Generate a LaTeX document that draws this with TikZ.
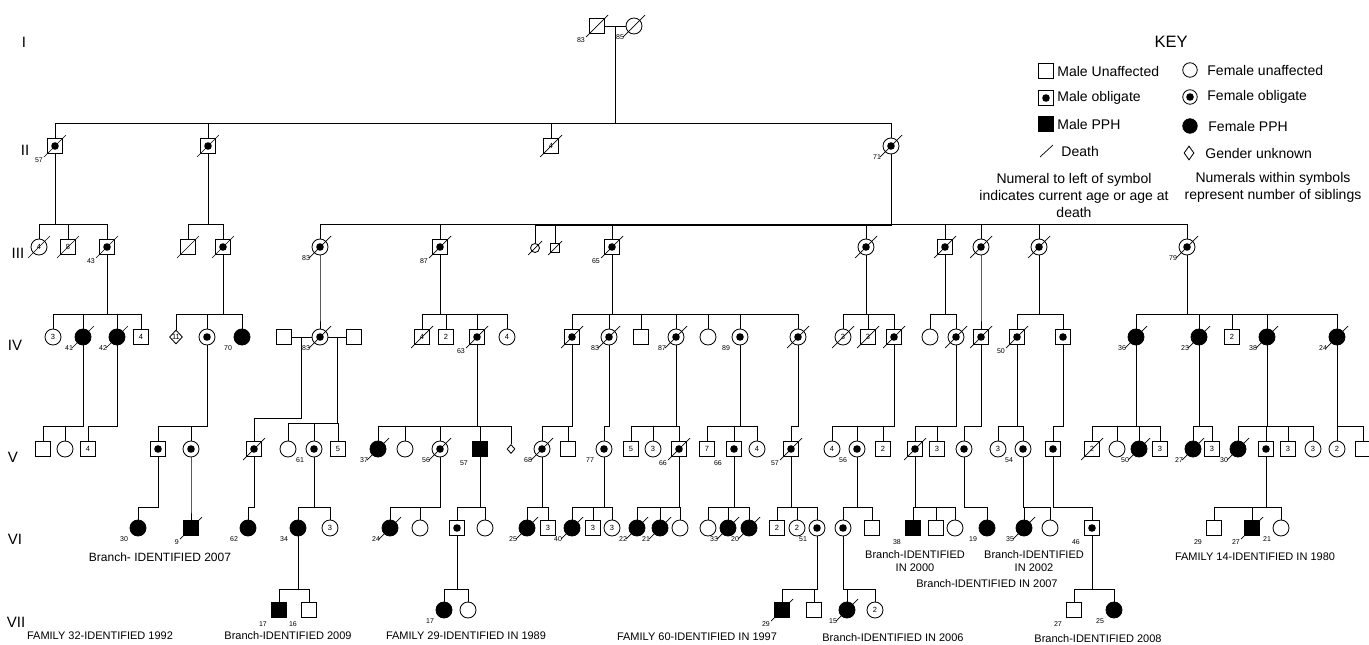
\documentclass[tikz,border=0pt]{standalone}
\usepackage{fontspec}
\setmainfont{Liberation Sans}
\usetikzlibrary{calc,shapes.geometric,positioning}

\newcommand{\agefont}{\fontsize{7}{8}\selectfont}
\newcommand{\numfont}{\fontsize{7.5}{8}\selectfont}
\newcommand{\notefont}{\fontsize{11}{13}\selectfont}
\newcommand{\keyfont}{\fontsize{14}{17}\selectfont}
\newcommand{\genfont}{\fontsize{15}{17}\selectfont}
% parent (anchor or coordinate) down to each child
\newcommand{\offspring}[3][23]{%
  \foreach \kid in {#3}
    \draw (#2) |- ([yshift=#1pt]\kid.center) -- (\kid.north);}

\begin{document}
\begin{tikzpicture}[x=1pt,y=-1pt,line width=0.85pt,
  sym/.style={draw,fill=white,inner sep=0pt,font=\numfont},
  ma/.style={sym,rectangle,minimum size=15.5pt},
  fe/.style={sym,circle,minimum size=16pt},
  ob/.style={path picture={\fill[black] (path picture bounding box.center) circle (3.8pt);}},
  mob/.style={ma,ob},
  fob/.style={fe,ob},
  mpph/.style={ma,fill=black},
  fpph/.style={fe,fill=black},
  unk/.style={sym,diamond,minimum width=11pt,minimum height=14pt},
  lil/.style={minimum size=9pt},
  aged/.style={label={[font=\agefont,inner sep=0.6pt,shift={(-3pt,-2pt)}]-135:#1}},
  slash/.style={line width=0.7pt},
  gen/.style={font=\genfont},
  note/.style={font=\notefont,align=center},
  keytxt/.style={font=\keyfont,anchor=west,inner sep=0pt}
]
\useasboundingbox (0,0) rectangle (1369,645);

% generation labels
\node[gen] (gI)   at (24,42)  {I};
\node[gen] (gII)  at (25,150) {II};
\node[gen] (gIII) at (18,253) {III};
\node[gen] (gIV)  at (15,345) {IV};
\node[gen] (gV)   at (13,457) {V};
\node[gen] (gVI)  at (15,539) {VI};
\node[gen] (gVII) at (16,622) {VII};

% generation I
\node[ma,aged=83] (I1) at (597,26) {};
\node[fe,aged=85] (I2) at (634,26) {};
\draw (I1.east) -- (I2.west);
\coordinate (I12) at ($(I1.east)!.5!(I2.west)$);

% generation II
\node[mob,aged=57] (II1) at (55,146) {};
\node[mob] (II2) at (208,146) {};
\node[ma] (II3) at (551,146) {4};
\node[fob,aged=71] (II4) at (891,146) {};

% generation III
\node[fe] (III1) at (39,247) {4};
\node[ma] (III2) at (68,247) {8};
\node[mob,aged=43] (III3) at (107,247) {};
\node[ma] (III4) at (188,247) {};
\node[mob] (III5) at (223,247) {};
\node[fob,aged=83] (III6) at (320,247) {};
\node[mob,aged=87] (III7) at (440,247) {};
\node[fe,lil] (III8) at (535,248) {};
\node[ma,lil] (III9) at (555,248) {};
\node[mob,aged=65] (III10) at (612,247) {};
\node[fob] (III11) at (866,247) {};
\node[mob] (III12) at (945,247) {};
\node[fob] (III13) at (981,247) {};
\node[fob] (III14) at (1039,247) {};
\node[fob,aged=79] (III15) at (1187,247) {};

% generation IV
\node[fe] (IV1) at (53,337) {3};
\node[fpph,aged=41] (IV2) at (83,337) {};
\node[fpph,aged=42] (IV3) at (117,337) {};
\node[ma] (IV4) at (141,337) {4};
\node[unk] (IV5) at (176,337) {11};
\node[fob] (IV6) at (207,337) {};
\node[fpph,aged=70] (IV7) at (242,337) {};
\node[ma] (IV8) at (284,337) {};
\node[fob,aged=83] (IV9) at (320,337) {};
\node[ma] (IV10) at (354,337) {};
\node[ma] (IV11) at (422,337) {4};
\node[ma] (IV12) at (446,337) {2};
\node[mob,aged=63] (IV13) at (477,337) {};
\node[fe] (IV14) at (507,337) {4};
\node[mob] (IV15) at (572,337) {};
\node[fob,aged=83] (IV16) at (609,337) {};
\node[ma] (IV17) at (641,337) {};
\node[fob,aged=87] (IV18) at (676,337) {};
\node[fe] (IV19) at (708,337) {};
\node[fob,aged=89] (IV20) at (740,337) {};
\node[fob] (IV21) at (798,337) {};
\node[fe] (IV22) at (843,337) {3};
\node[ma] (IV23) at (868,337) {3};
\node[mob] (IV24) at (894,337) {};
\node[fe] (IV25) at (930,337) {};
\node[fob] (IV26) at (956,337) {};
\node[mob] (IV27) at (981,337) {};
\node[mob,aged=50] (IV28) at (1017,337) {};
\node[mob] (IV29) at (1063,337) {};
\node[fpph,aged=36] (IV30) at (1136,337) {};
\node[fpph,aged=23] (IV31) at (1199,337) {};
\node[ma] (IV32) at (1232,337) {2};
\node[fpph,aged=38] (IV33) at (1267,337) {};
\node[fpph,aged=24] (IV34) at (1337,337) {};
\draw (IV8.east) -- (IV9.west) (IV9.east) -- (IV10.west);
\coordinate (IVc1) at ($(IV8.east)!.5!(IV9.west)$);
\coordinate (IVc2) at ($(IV9.east)!.5!(IV10.west)$);

% generation V
\node[ma] (V1) at (43,449) {};
\node[fe] (V2) at (65,449) {};
\node[ma] (V3) at (88,449) {4};
\node[mob] (V4) at (158,449) {};
\node[fob] (V5) at (191,449) {};
\node[mob] (V6) at (254,449) {};
\node[fe] (V7) at (288,449) {};
\node[fob,aged=61] (V8) at (314,449) {};
\node[ma] (V9) at (338,449) {5};
\node[fpph,aged=37] (V10) at (378,449) {};
\node[fe] (V11) at (405,449) {};
\node[fob,aged=56] (V12) at (440,449) {};
\node[mpph,aged=57] (V13) at (480,449) {};
\node[unk,minimum width=8pt,minimum height=9pt] (V14) at (511,449) {};
\node[fob,aged=68] (V15) at (542,449) {};
\node[ma] (V16) at (568,449) {};
\node[fob,aged=77] (V17) at (604,449) {};
\node[ma] (V18) at (631,449) {5};
\node[fe] (V19) at (653,449) {3};
\node[mob,aged=66] (V20) at (679,449) {};
\node[ma] (V21) at (707,449) {7};
\node[mob,aged=66] (V22) at (734,449) {};
\node[fe] (V23) at (757,449) {4};
\node[mob,aged=57] (V24) at (791,449) {};
\node[fe] (V25) at (832,449) {4};
\node[fob,aged=56] (V26) at (857,449) {};
\node[ma] (V27) at (883,449) {2};
\node[mob] (V28) at (915,449) {};
\node[ma] (V29) at (937,449) {3};
\node[fob] (V30) at (964,449) {};
\node[fe] (V31) at (998,449) {3};
\node[fob,aged=54] (V32) at (1023,449) {};
\node[mob] (V33) at (1053,449) {};
\node[ma] (V34) at (1092,449) {2};
\node[fe] (V35) at (1117,449) {};
\node[fpph,aged=50] (V36) at (1139,449) {};
\node[ma] (V37) at (1160,449) {3};
\node[fpph,aged=27] (V38) at (1193,449) {};
\node[ma] (V39) at (1212,449) {3};
\node[fpph,aged=30] (V40) at (1238,449) {};
\node[mob] (V41) at (1266,449) {};
\node[ma] (V42) at (1288,449) {3};
\node[fe] (V43) at (1313,449) {3};
\node[fe] (V44) at (1337,449) {2};
\node[ma] (V45) at (1363,449) {};

% generation VI
\node[fpph,aged=30] (VI1) at (138,528) {};
\node[mpph,aged=9] (VI2) at (191,528) {};
\node[fpph,aged=62] (VI3) at (248,528) {};
\node[fpph,aged=34] (VI4) at (298,528) {};
\node[fe] (VI5) at (330,528) {3};
\node[fpph,aged=24] (VI6) at (390,528) {};
\node[fe] (VI7) at (420,528) {};
\node[mob] (VI8) at (457,528) {};
\node[fe] (VI9) at (485,528) {};
\node[fpph,aged=25] (VI10) at (527,528) {};
\node[ma] (VI11) at (548,528) {3};
\node[fpph,aged=40] (VI12) at (572,528) {};
\node[ma] (VI13) at (593,528) {3};
\node[fe] (VI14) at (612,528) {3};
\node[fpph,aged=22] (VI15) at (637,528) {};
\node[fpph,aged=21] (VI16) at (660,528) {};
\node[fe] (VI17) at (680,528) {};
\node[fe] (VI18) at (708,528) {};
\node[fpph,aged=33] (VI19) at (728,528) {};
\node[fpph,aged=20] (VI20) at (749,528) {};
\node[ma] (VI21) at (777,528) {2};
\node[fe] (VI22) at (797,528) {2};
\node[fob,aged=51] (VI23) at (817,528) {};
\node[fob] (VI24) at (843,528) {};
\node[ma] (VI25) at (872,528) {};
\node[mpph,aged=38] (VI26) at (913,528) {};
\node[ma] (VI27) at (936,528) {};
\node[fe] (VI28) at (955,528) {};
\node[fpph,aged=19] (VI29) at (987,528) {};
\node[fpph,aged=35] (VI30) at (1024,528) {};
\node[fe] (VI31) at (1050,528) {};
\node[mob,aged=46] (VI32) at (1092,528) {};
\node[ma,aged=29] (VI33) at (1214,528) {};
\node[mpph,aged=27] (VI34) at (1252,528) {};
\node[fe,aged=21] (VI35) at (1281,528) {};

% generation VII
\node[mpph,aged=17] (VII1) at (279,610) {};
\node[ma,aged=16] (VII2) at (309,610) {};
\node[fpph,aged=17] (VII3) at (444,610) {};
\node[fe] (VII4) at (468,610) {};
\node[mpph,aged=29] (VII5) at (782,610) {};
\node[ma] (VII6) at (814,610) {};
\node[fpph,aged=15] (VII7) at (847,610) {};
\node[fe] (VII8) at (875,610) {2};
\node[ma,aged=27] (VII9) at (1074,610) {};
\node[fpph,aged=25] (VII10) at (1114,610) {};

% lines of descent
\offspring{I12}{II1,II2,II3,II4}
\offspring{II1.south}{III1,III2,III3}
\offspring{II2.south}{III4,III5}
\offspring{II4.south}{III6,III7,III8,III9,III10,III11,III12,III13,III14,III15}
\offspring{III3.south}{IV1,IV2,IV3,IV4}
\offspring{III5.south}{IV5,IV6,IV7}
\offspring{III6.south}{IV9}
\offspring{III7.south}{IV11,IV12,IV13,IV14}
\offspring{III10.south}{IV15,IV16,IV17,IV18,IV19,IV20,IV21}
\offspring{III11.south}{IV22,IV23,IV24}
\offspring{III12.south}{IV25,IV26}
\offspring{III13.south}{IV27}
\offspring{III14.south}{IV28,IV29}
\offspring{III15.south}{IV30,IV31,IV32,IV33,IV34}
\offspring{IV2.south}{V1,V2}
\offspring{IV3.south}{V3}
\offspring{IV6.south}{V4,V5}
\offspring[31]{IVc1}{V6}
\offspring[26]{IVc2}{V7,V8,V9}
\offspring{IV13.south}{V10,V11,V12,V13,V14}
\offspring{IV15.south}{V15,V16}
\offspring{IV16.south}{V17}
\offspring{IV18.south}{V18,V19,V20}
\offspring{IV20.south}{V21,V22,V23}
\offspring{IV21.south}{V24}
\offspring{IV24.south}{V25,V26,V27}
\offspring{IV26.south}{V28,V29}
\offspring{IV27.south}{V30}
\offspring{IV28.south}{V31,V32}
\offspring{IV29.south}{V33}
\offspring{IV30.south}{V34,V35,V36,V37}
\offspring{IV31.south}{V38,V39}
\offspring{IV33.south}{V40,V41,V42,V43}
\offspring{IV34.south}{V44,V45}
\offspring[21]{V4.south}{VI1}
\offspring[21]{V5.south}{VI2}
\offspring[21]{V6.south}{VI3}
\offspring[21]{V8.south}{VI4,VI5}
\offspring[21]{V12.south}{VI6,VI7}
\offspring[21]{V13.south}{VI8,VI9}
\offspring[21]{V15.south}{VI10,VI11}
\offspring[21]{V17.south}{VI12,VI13,VI14}
\offspring[21]{V20.south}{VI15,VI16,VI17}
\offspring[21]{V22.south}{VI18,VI19,VI20}
\offspring[21]{V24.south}{VI21,VI22,VI23}
\offspring[21]{V26.south}{VI24,VI25}
\offspring[21]{V28.south}{VI26,VI27,VI28}
\offspring[21]{V30.south}{VI29}
\offspring[21]{V32.south}{VI30,VI31}
\offspring[21]{V33.south}{VI32}
\offspring[21]{V41.south}{VI33,VI34,VI35}
\offspring[21]{VI4.south}{VII1,VII2}
\offspring[21]{VI8.south}{VII3,VII4}
\offspring[21]{VI23.south}{VII5,VII6}
\offspring[21]{VI24.south}{VII7,VII8}
\offspring[21]{VI32.south}{VII9,VII10}

% deaths
\foreach \n in {I1,I2,II1,II2,II3,II4,III1,III2,III3,III4,III5,III6,III7,III10,
    III11,III12,III13,III14,III15,IV2,IV3,IV9,IV11,IV13,IV15,IV16,IV18,IV21,
    IV22,IV23,IV24,IV26,IV27,IV28,IV30,IV31,IV33,IV34,V6,V10,V12,V15,V20,V24,
    V28,V34,V36,V38,V40,VI2,VI6,VI10,VI12,VI15,VI16,VI19,VI20,VI30,VI34,VII5,VII7}
  \draw[slash] ([shift={(-11pt,-11pt)}]\n.center) -- ([shift={(11pt,11pt)}]\n.center);
\foreach \n in {III8,III9}
  \draw[slash] ([shift={(-7pt,-7pt)}]\n.center) -- ([shift={(7pt,7pt)}]\n.center);

% branch and family notes
\node[note,font=\fontsize{12}{14}\selectfont] (n1) at (160,557) {Branch- IDENTIFIED 2007};
\node[note] (n2)  at (100,636)  {FAMILY 32-IDENTIFIED 1992};
\node[note] (n3)  at (288,636)  {Branch-IDENTIFIED 2009};
\node[note] (n4)  at (466,636)  {FAMILY 29-IDENTIFIED IN 1989};
\node[note] (n5)  at (697,637)  {FAMILY 60-IDENTIFIED IN 1997};
\node[note] (n6)  at (893,638)  {Branch-IDENTIFIED IN 2006};
\node[note] (n7)  at (1098,639) {Branch-IDENTIFIED 2008};
\node[note] (n8)  at (915,561)  {Branch-IDENTIFIED\\IN 2000};
\node[note] (n9)  at (1034,561) {Branch-IDENTIFIED\\IN 2002};
\node[note] (n10) at (987,584)  {Branch-IDENTIFIED IN 2007};
\node[note] (n11) at (1255,557) {FAMILY 14-IDENTIFIED IN 1980};

% key
\node[font=\fontsize{16.5}{18}\selectfont] (key) at (1171,42) {KEY};
\node[ma,minimum size=15pt] (k1) at (1046,71) {};
\node[keytxt] (k1t) at (1057,71) {Male Unaffected};
\node[mob,minimum size=15pt] (k2) at (1046,98) {};
\node[keytxt] (k2t) at (1057,98) {Male obligate};
\node[mpph,minimum size=15pt] (k3) at (1046,124) {};
\node[keytxt] (k3t) at (1057,124) {Male PPH};
\draw[slash] (1040,157) -- (1053,145);
\node[keytxt] (k4t) at (1061,151) {Death};
\node[fe,minimum size=14.5pt] (k5) at (1190,70) {};
\node[keytxt] (k5t) at (1207,70) {Female unaffected};
\node[fob,minimum size=14.5pt] (k6) at (1190,97) {};
\node[keytxt] (k6t) at (1207,97) {Female obligate};
\node[fpph,minimum size=14.5pt] (k7) at (1190,126) {};
\node[keytxt] (k7t) at (1208,126) {Female PPH};
\node[unk,minimum width=10pt,minimum height=14pt] (k8) at (1189,153) {};
\node[keytxt] (k8t) at (1205,153) {Gender unknown};
\node[font=\keyfont,align=center,inner sep=0pt] (k9) at (1074,195)
  {Numeral to left of symbol\\indicates current age or age at\\death};
\node[font=\keyfont,align=center,inner sep=0pt] (k10) at (1273,187)
  {Numerals within symbols\\represent number of siblings};
\end{tikzpicture}
\end{document}
